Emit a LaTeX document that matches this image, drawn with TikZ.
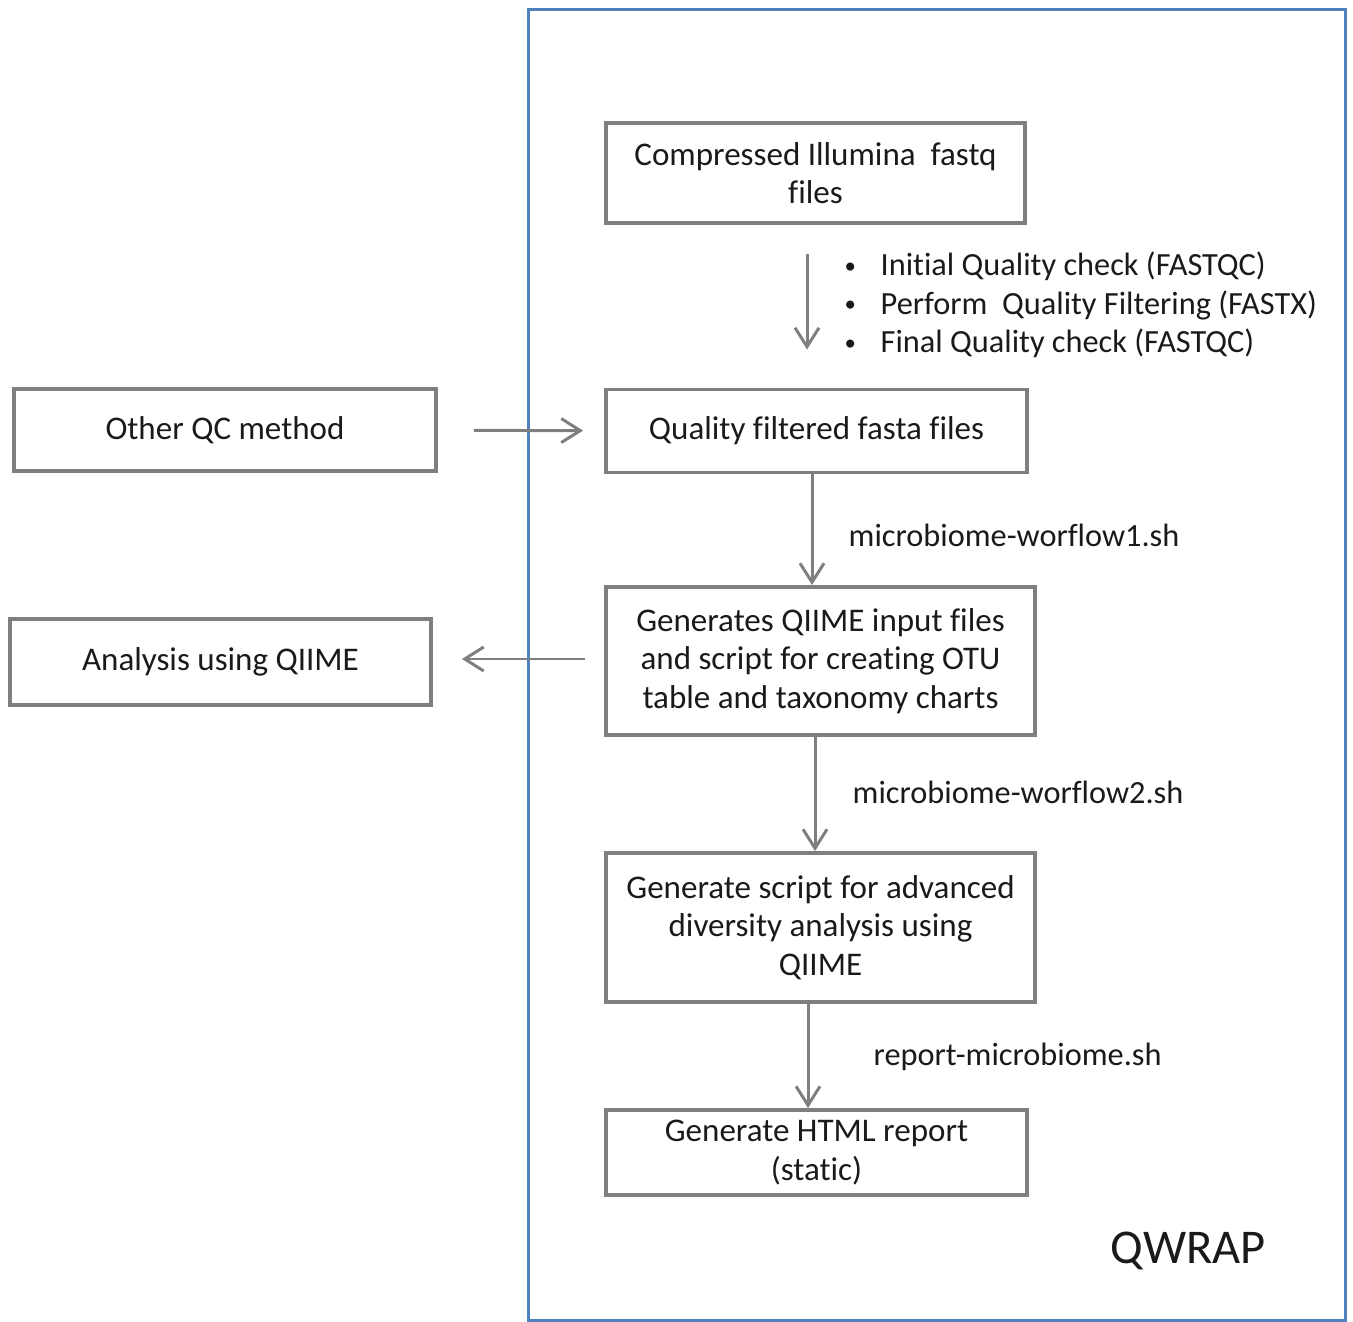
\documentclass[tikz,border=0pt]{standalone}
\usepackage{fontspec}
\setmainfont{Carlito}[Ligatures=NoCommon]
\usetikzlibrary{arrows.meta}
\definecolor{boxgray}{HTML}{7F7F7F}
\definecolor{qblue}{HTML}{4F81BD}
\definecolor{txt}{HTML}{1A1A1A}
\newcommand{\qbul}{\makebox[4mm][l]{\hspace{0.4mm}\raisebox{0.7pt}{\fontsize{6.5}{6.5}\selectfont\textbullet}}}

\tikzset{
  stepbox/.style={draw=boxgray, line width=1.1pt, align=center, inner sep=0pt, text=txt, font=\fontsize{9.4}{10.9}\selectfont},
  flow/.style={draw=boxgray, line width=0.85pt, -{Straight Barb[length=1.9mm,width=2.4mm,line width=0.85pt]}},
  lbl/.style={anchor=west, inner sep=0pt, text=txt, font=\fontsize{9.2}{11}\selectfont},
}

\begin{document}
\begin{tikzpicture}[x=0.1mm,y=-0.1mm]
          \useasboundingbox (0,0) rectangle (1353,1322);
          \draw[qblue, line width=0.85pt] (528,10) rectangle (1345,1320);
          % main column
          \node[stepbox, minimum width=41.9mm, minimum height=10mm]   (fastq)  at (815.5,173) {Compressed Illumina\ \ fastq\\files};
          \node[stepbox, minimum width=42.1mm, minimum height=8.3mm]  (fasta)  at (816.5,431) {Quality filtered fasta files};
          \node[stepbox, minimum width=42.9mm, minimum height=14.8mm] (otu)    at (820.5,661) {Generates QIIME input files\\and script for creating OTU\\table and taxonomy charts};
          \node[stepbox, minimum width=42.9mm, minimum height=14.9mm] (divers) at (820.5,927.5) {Generate script for advanced\\diversity analysis using\\QIIME};
          \node[stepbox, minimum width=42.1mm, minimum height=8.5mm]  (html)   at (816.5,1152.5) {Generate HTML report\\(static)};
          % outside QWRAP
          \node[stepbox, minimum width=42.2mm, minimum height=8.2mm]  (otherqc) at (225,430) {Other QC method};
          \node[stepbox, minimum width=42.1mm, minimum height=8.6mm]  (qiime)   at (220.5,662) {Analysis using QIIME};
          % connectors
          \draw[flow, shorten <=2.9mm, shorten >=3.8mm] (fastq.south -| 807,0) -- (fasta.north -| 807,0);
          \draw[flow, shorten <=3.6mm, shorten >=2.1mm] (otherqc) -- (fasta);
          \draw[flow] (fasta.south -| 812,0) -- (otu.north -| 812,0);
          \draw[flow] (otu.south -| 815,0) -- (divers.north -| 815,0);
          \draw[flow] (divers.south -| 808,0) -- (html.north -| 808,0);
          \draw[flow, shorten <=1.9mm, shorten >=2.9mm] (otu.west |- 0,659) -- (qiime.east |- 0,659);
          % labels
          \node[lbl, align=left] (qcsteps) at (840,305) {\qbul Initial Quality check (FASTQC)\\
            \qbul Perform\ \ Quality Filtering (FASTX)\\
            \qbul Final Quality check (FASTQC)};
          \node[lbl] (wf1) at (848,535)  {microbiome-worflow1.sh};
          \node[lbl] (wf2) at (852,792)  {microbiome-worflow2.sh};
          \node[lbl] (rep) at (873,1057) {report-microbiome.sh};
          \node[lbl, font=\fontsize{13.8}{16}\selectfont] (qwrap) at (1110,1251) {QWRAP};
        \end{tikzpicture}
\end{document}
